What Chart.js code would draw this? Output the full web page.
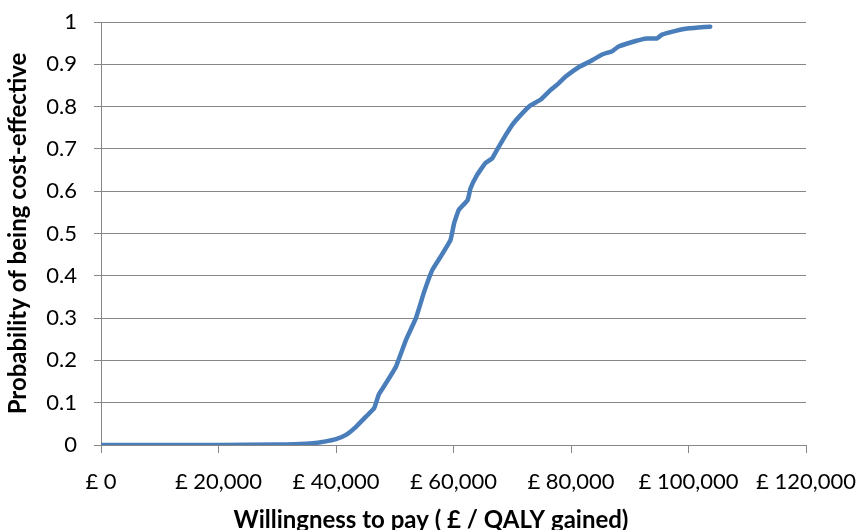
<!DOCTYPE html>
<html>
<head>
<meta charset="utf-8">
<script src="https://cdn.jsdelivr.net/npm/chart.js@4"></script>
<style>
  html, body { margin: 0; padding: 0; background: #fff; }
  #wrap { width: 862px; height: 530px; }
</style>
</head>
<body>
<div id="wrap"><canvas id="ceac"></canvas></div>
<script>
// Willingness to pay (£ per QALY) and probability of being cost-effective
const wtp = [
  0, 20000, 30000, 33000, 36000, 38000, 40000, 41700, 43400, 45100,
  46500, 47300, 48500, 50200, 51900, 53600, 55000, 56400, 57800, 59500,
  60100, 60900, 62400, 62900, 64000, 65400, 66600, 67700, 68900, 70000,
  71700, 73100, 74800, 76500, 77900, 79100, 81300, 83400, 85300, 87000,
  88100, 91000, 92900, 94600, 95500, 97800, 99500, 101700, 103700
];
const probCE = [
  0, 0, 0.001, 0.002, 0.004, 0.008, 0.014, 0.024, 0.043, 0.067,
  0.087, 0.12, 0.146, 0.185, 0.248, 0.300, 0.362, 0.414, 0.445, 0.485,
  0.524, 0.556, 0.579, 0.607, 0.638, 0.666, 0.678, 0.705, 0.733, 0.757,
  0.784, 0.803, 0.816, 0.839, 0.855, 0.871, 0.893, 0.908, 0.923, 0.931,
  0.942, 0.955, 0.961, 0.961, 0.970, 0.979, 0.984, 0.987, 0.989
];

const xTitle = "Willingness to pay ( £ / QALY gained)";
const yTitle = "Probability of being cost-effective";

const FONT = "Lato, 'Open Sans', sans-serif";
const GRID = "#878787";

const points = wtp.map((x, i) => ({ x: x, y: probCE[i] }));

Chart.defaults.font.family = FONT;
Chart.defaults.color = "#000";

new Chart(document.getElementById("ceac").getContext("2d"), {
  type: "scatter",
  data: {
    datasets: [{
      data: points,
      showLine: true,
      borderColor: "#4a7ebb",
      borderWidth: 4.5,
      borderCapStyle: "round",
      borderJoinStyle: "round",
      pointRadius: 0,
      tension: 0.1
    }]
  },
  options: {
    responsive: true,
    maintainAspectRatio: false,
    animation: false,
    layout: { padding: { top: 22, right: 0, bottom: 0, left: 0 } },
    plugins: {
      legend: { display: false },
      tooltip: { enabled: false },
      // x axis title, centred on the whole picture like the original
      title: {
        display: true,
        position: "bottom",
        text: xTitle,
        color: "#000",
        font: { size: 24, weight: "bold", lineHeight: 0.8 },
        padding: { top: 0, bottom: 0 }
      }
    },
    scales: {
      x: {
        type: "linear",
        min: 0,
        max: 120000,
        afterFit: (s) => {
          s.height = 65.8;
          s.paddingLeft = 0;
          s.paddingRight = 56;   // room for the last tick label
        },
        ticks: {
          stepSize: 20000,
          padding: 16,
          maxRotation: 0,
          font: { size: 22 },
          callback: (v) => "£ " + Number(v).toLocaleString("en-GB")
        },
        grid: { drawOnChartArea: false, drawTicks: true, tickLength: 8, color: GRID },
        border: { display: true, color: GRID, width: 1 }
      },
      y: {
        min: 0,
        max: 1,
        afterFit: (s) => {
          s.width = 101;
          s.paddingTop = 0;
          s.paddingBottom = 0;
        },
        ticks: {
          stepSize: 0.1,
          padding: 17,
          font: { size: 22 },
          callback: (v) => (v === 0 || v === 1) ? String(v) : Number(v).toFixed(1)
        },
        grid: { color: GRID, tickLength: 7, lineWidth: 1 },
        border: { display: true, color: GRID, width: 1 },
        title: {
          display: true,
          text: yTitle,
          font: { size: 24, weight: "bold", lineHeight: 1 },
          padding: { top: 6, bottom: 0 }
        }
      }
    }
  }
});
</script>
</body>
</html>
